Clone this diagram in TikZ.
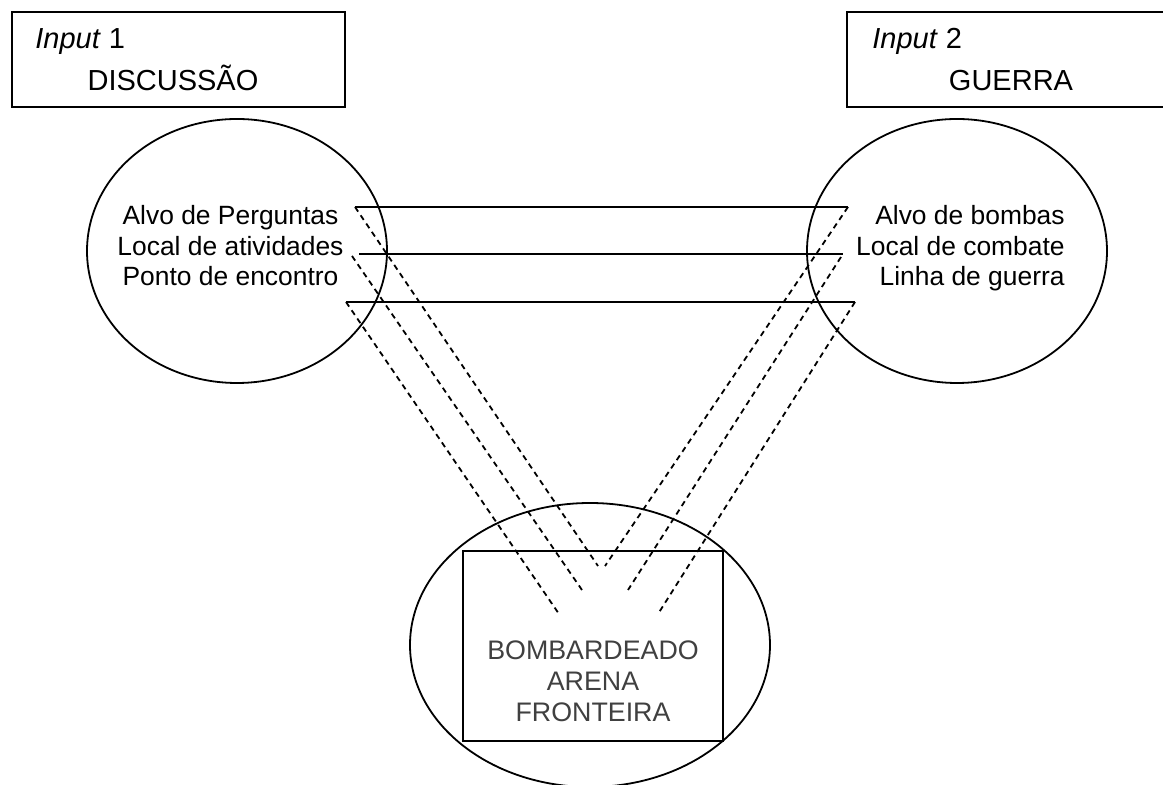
\documentclass[tikz,border=0pt]{standalone}
\usepackage{fontspec}
\setmainfont{Liberation Sans}
\usetikzlibrary{shapes.geometric}

\begin{document}
\begin{tikzpicture}[x=0.5pt,y=-0.5pt]

		\tikzset{line/.style={draw,line width=0.9pt}}
		\tikzset{dashline/.style={line,dash pattern=on 2.8pt off 2.2pt}}
		\tikzset{inbox/.style={line,rectangle,inner sep=0pt,minimum height=47.5pt}}
		\tikzset{oval/.style={line,ellipse,inner sep=0pt}}
		\tikzset{head/.style={inner sep=0pt,font=\fontsize{14.5}{17}\selectfont}}
		\tikzset{item/.style={inner sep=0pt,font=\fontsize{13.2}{15}\selectfont}}
		\tikzset{place/.style={inner sep=0pt,text=black!75,font=\fontsize{13.4}{15}\selectfont}}

		\useasboundingbox (0,0) rectangle (1163,785);

		% input boxes
		\node[inbox, minimum width=166.5pt] (disc) at (178.5,59.5) {};
		\node[inbox, minimum width=176.5pt] (guer) at (1023.5,59.5) {};

		\node[head, anchor=base west] (in1) at (35,49) {\textit{Input} 1};
		\node[head, anchor=base] (discT) at (173,91) {DISCUSSÃO};
		\node[head, anchor=base west] (in2) at (872,49) {\textit{Input} 2};
		\node[head, anchor=base] (guerT) at (1011,91) {GUERRA};

		% ellipses
		\node[oval, minimum width=150pt, minimum height=132pt] (discE) at (237,251) {};
		\node[oval, minimum width=150pt, minimum height=132pt] (guerE) at (957,251) {};
		\node[oval, minimum width=180pt, minimum height=142pt] (blend) at (590,645) {};
		\node[line, rectangle, inner sep=0pt, minimum width=130pt, minimum height=95pt] (res) at (593,646) {};

		\node[item, anchor=base] (l1) at (230.5,225) {Alvo de Perguntas};
		\node[item, anchor=base] (l2) at (230.5,256) {Local de atividades};
		\node[item, anchor=base] (l3) at (230.5,286) {Ponto de encontro};

		\node[item, anchor=base east] (r1) at (1065,225) {Alvo de bombas};
		\node[item, anchor=base east] (r2) at (1065,256) {Local de combate};
		\node[item, anchor=base east] (r3) at (1065,286) {Linha de guerra};

		\node[place, anchor=base] (b1) at (593,660) {BOMBARDEADO};
		\node[place, anchor=base] (b2) at (593,691) {ARENA};
		\node[place, anchor=base] (b3) at (593,722) {FRONTEIRA};

		% line ends
		\coordinate (a1) at (355,207);
		\coordinate (a2) at (359,254);
		\coordinate (a2d) at (352,256);
		\coordinate (a3) at (346,302);
		\coordinate (c1) at (848,207);
		\coordinate (c2) at (843,254);
		\coordinate (c2d) at (841,257);
		\coordinate (c3) at (855,302);

		\coordinate (p1) at (598,566);
		\coordinate (p2) at (582,590);
		\coordinate (p3) at (559,614);
		\coordinate (q1) at (605,566);
		\coordinate (q2) at (628,590);
		\coordinate (q3) at (658,614);

		\path[line] (a1) -- (c1);
		\path[line] (a2) -- (c2);
		\path[line] (a3) -- (c3);

		\path[dashline] (a1) -- (p1);
		\path[dashline] (a2d) -- (p2);
		\path[dashline] (a3) -- (p3);
		\path[dashline] (c1) -- (q1);
		\path[dashline] (c2d) -- (q2);
		\path[dashline] (c3) -- (q3);

	\end{tikzpicture}
\end{document}
